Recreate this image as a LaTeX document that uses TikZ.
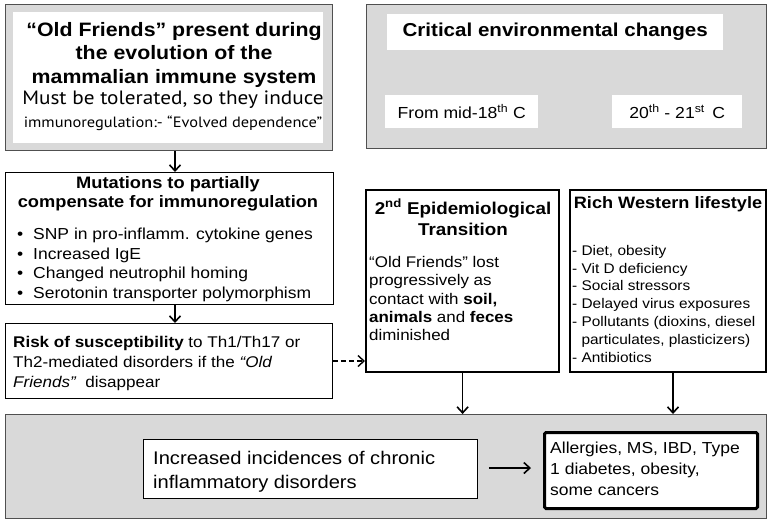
\documentclass[tikz,border=0pt]{standalone}
\usepackage{fontspec}
\setmainfont[FakeStretch=1.1]{Liberation Sans}
\newfontfamily\humfont[FakeStretch=1.1]{PT Sans}
\usetikzlibrary{arrows.meta,positioning}
\definecolor{panelgrey}{RGB}{217,217,217}
\definecolor{edgegrey}{RGB}{80,80,80}

\begin{document}
\begin{tikzpicture}[x=1pt, y=-1pt,
    panel/.style={draw=edgegrey, line width=1pt, fill=panelgrey, anchor=north west, inner sep=0pt},
    plainbox/.style={draw=black, line width=0.9pt, fill=white, anchor=north west, inner sep=0pt},
    heavybox/.style={plainbox, line width=2.2pt},
    labelbox/.style={fill=white, anchor=north west, inner sep=0pt},
    txt/.style={inner sep=0pt, anchor=north west, align=left},
    flow/.style={line width=1.6pt, -{Straight Barb[length=6pt,width=11pt]}}]
    \useasboundingbox[fill=white] (0,0) rectangle (767,523);

    % Old Friends panel
    \node[panel, minimum width=327pt, minimum height=146pt] (oldpanel) at (5,4) {};
    \node[labelbox, minimum width=310pt, minimum height=131pt] (oldlabel) at (13,12) {};
    \node[inner sep=0pt, anchor=north, align=center, font=\bfseries\fontsize{19.4}{23.5}\selectfont] (oldtitle) at (174,22) {“Old Friends” present during\\the evolution of the\\mammalian immune system};
    \node[inner sep=0pt, font=\humfont\fontsize{19.3}{22}\selectfont] (oldsub) at (173,100) {Must be tolerated, so they induce};
    \node[inner sep=0pt, font=\humfont\fontsize{14.9}{19}\selectfont] (oldsubb) at (173,123) {immunoregulation:- “Evolved dependence”};

    % Environmental changes panel
    \node[panel, minimum width=400pt, minimum height=144pt] (envpanel) at (366,4) {};
    \node[labelbox, minimum width=336pt, minimum height=36pt, font=\bfseries\fontsize{18.7}{21}\selectfont] (envtitle) at (387,14) {Critical environmental changes};
    \node[labelbox, minimum width=153pt, minimum height=33pt, font=\fontsize{16}{18}\selectfont] (midera) at (385,95) {From mid-18\textsuperscript{th} C};
    \node[labelbox, minimum width=130pt, minimum height=33pt, font=\fontsize{16}{18}\selectfont] (modera) at (612,95) {20\textsuperscript{th} - 21\textsuperscript{st}\, C};

    % Mutations
    \node[plainbox, minimum width=328pt, minimum height=132pt] (mutbox) at (5,172) {};
    \node[inner sep=0pt, anchor=north, align=center, font=\bfseries\fontsize{16.6}{19.5}\selectfont] (muttitle) at (168,176) {Mutations to partially\\compensate for immunoregulation};
    \node[txt, font=\fontsize{15.9}{19.5}\selectfont] (mutlist) at (17,228) {%
        \makebox[16pt][l]{•}SNP in pro-inflamm. cytokine genes\\
        \makebox[16pt][l]{•}Increased IgE\\
        \makebox[16pt][l]{•}Changed neutrophil homing\\
        \makebox[16pt][l]{•}Serotonin transporter polymorphism};

    % Risk
    \node[plainbox, minimum width=327pt, minimum height=75pt] (riskbox) at (5,323) {};
    \node[txt, font=\fontsize{15.5}{20}\selectfont] (risktext) at (13,336) {%
        \textbf{Risk of susceptibility} to Th1/Th17 or\\
        Th2-mediated disorders if the \textit{“Old}\\
        \textit{Friends”}\; disappear};

    % Epidemiological transition
    \node[heavybox, minimum width=193pt, minimum height=182pt] (epibox) at (365,189) {};
    \node[inner sep=0pt, anchor=north, align=center, font=\bfseries\fontsize{17.1}{21.5}\selectfont] (epititle) at (463,199) {2\textsuperscript{nd} Epidemiological\\Transition};
    \node[txt, font=\fontsize{15.4}{18.4}\selectfont] (epitext) at (369,256) {%
        “Old Friends” lost\\
        progressively as\\
        contact with \textbf{soil,}\\
        \textbf{animals} and \textbf{feces}\\
        diminished};

    % Western lifestyle
    \node[heavybox, minimum width=196pt, minimum height=182pt] (richbox) at (569,189) {};
    \node[inner sep=0pt, anchor=north, font=\bfseries\fontsize{16.5}{19}\selectfont] (richtitle) at (668,196) {Rich Western lifestyle};
    \node[txt, font=\fontsize{14}{17.8}\selectfont] (richlist) at (572,245) {%
        - Diet, obesity\\
        - Vit D deficiency\\
        - Social stressors\\
        - Delayed virus exposures\\
        - Pollutants (dioxins, diesel\\
        \hphantom{- }particulates, plasticizers)\\
        - Antibiotics};

    % Outcome panel
    \node[panel, minimum width=761pt, minimum height=104pt] (outpanel) at (5,414) {};
    \node[plainbox, minimum width=334pt, minimum height=59pt] (incbox) at (143,439) {};
    \node[txt, font=\fontsize{18.3}{24}\selectfont] (inctext) at (153,451) {%
        Increased incidences of chronic\\
        inflammatory disorders};
    \node[plainbox, line width=3pt, rounded corners=1.5pt, minimum width=213pt, minimum height=76pt] (disbox) at (543,431) {};
    \node[txt, font=\fontsize{15.9}{21}\selectfont] (distext) at (550,442) {%
        Allergies, MS, IBD, Type\\
        1 diabetes, obesity,\\
        some cancers};

    % connectors
    \draw[flow] (oldpanel.south -| 175,0) -- (mutbox.north -| 175,0);
    \draw[flow] (mutbox.south -| 175,0) -- (riskbox.north -| 175,0);
    \draw[flow, dash pattern=on 5pt off 3pt, line width=1.4pt] (riskbox.east |- 0,361) -- (epibox.west |- 0,361);
    \draw[flow] (epibox.south) -- (outpanel.north -| epibox.south);
    \draw[flow] (richbox.south -| 673,0) -- (outpanel.north -| 673,0);
    \draw[flow] ([xshift=11pt]incbox.east |- 0,468) -- ([xshift=-12pt]disbox.west |- 0,468);
\end{tikzpicture}
\end{document}
